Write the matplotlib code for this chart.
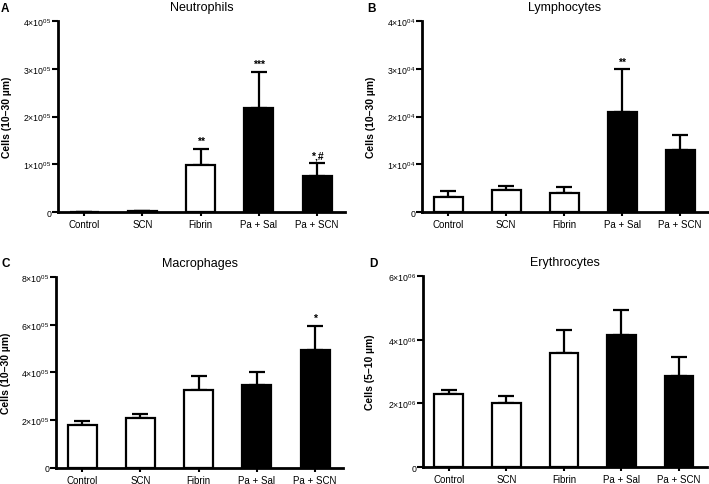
import numpy as np
import matplotlib
matplotlib.use("Agg")
import matplotlib.pyplot as plt
from matplotlib.ticker import FixedLocator, FuncFormatter

plt.rcParams['font.family'] = 'Liberation Sans'
plt.rcParams['mathtext.fontset'] = 'custom'
plt.rcParams['mathtext.rm'] = 'Liberation Sans'
plt.rcParams['mathtext.it'] = 'Liberation Sans:italic'
plt.rcParams['mathtext.bf'] = 'Liberation Sans:bold'

groups = ['Control', 'SCN', 'Fibrin', 'Pa + Sal', 'Pa + SCN']
fills = ['white', 'white', 'white', 'black', 'black']

# Neutrophils
neut = [0, 0.03e5, 0.99e5, 2.17e5, 0.76e5]
neut_err = [0, 0, 0.33e5, 0.76e5, 0.26e5]
neut_sig = ['', '', '**', '***', '*,#']

# Lymphocytes
lymph = [0.32e4, 0.46e4, 0.39e4, 2.10e4, 1.30e4]
lymph_err = [0.11e4, 0.09e4, 0.14e4, 0.89e4, 0.32e4]
lymph_sig = ['', '', '', '**', '']

# Macrophages
macro = [1.81e5, 2.11e5, 3.26e5, 3.47e5, 4.93e5]
macro_err = [0.14e5, 0.17e5, 0.61e5, 0.56e5, 1.01e5]
macro_sig = ['', '', '', '', '*']

# Erythrocytes
eryth = [2.28e6, 2.01e6, 3.59e6, 4.16e6, 2.85e6]
eryth_err = [0.13e6, 0.22e6, 0.73e6, 0.77e6, 0.62e6]
eryth_sig = ['', '', '', '', '']

panels = [
    ('A', 'Neutrophils', 'Cells (10\u201330 \u00b5m)', neut, neut_err, neut_sig, [0, 1e5, 2e5, 3e5, 4e5], 5,
     [0.0818, 0.5608, 0.4048, 0.3938], (1, 3), -0.160),
    ('B', 'Lymphocytes', 'Cells (10\u201330 \u00b5m)', lymph, lymph_err, lymph_sig, [0, 1e4, 2e4, 3e4, 4e4], 4,
     [0.5952, 0.5608, 0.4034, 0.3938], (367, 3), -0.161),
    ('C', 'Macrophages', 'Cells (10\u201330 \u00b5m)', macro, macro_err, macro_sig, [0, 2e5, 4e5, 6e5, 8e5], 5,
     [0.0790, 0.0330, 0.4048, 0.3938], (2, 258), -0.157),
    ('D', 'Erythrocytes', 'Cells (5\u201310 \u00b5m)', eryth, eryth_err, eryth_sig, [0, 2e6, 4e6, 6e6], 6,
     [0.5966, 0.0350, 0.4000, 0.3938], (369, 258), -0.168),
]

fig = plt.figure(figsize=(7.09, 4.85), dpi=100)

for letter, title, ylab, vals, errs, sigs, ticks, exp, pos, lpos, ylx in panels:
    ax = fig.add_axes(pos)
    x = np.arange(len(groups))
    ax.errorbar(x, vals, yerr=[np.zeros(len(errs)), errs], fmt='none', ecolor='black',
                elinewidth=1.6, capsize=6, capthick=1.6, zorder=1)
    ax.bar(x, vals, width=0.5, color=fills, edgecolor='black', linewidth=1.6, zorder=2)
    top = ticks[-1]
    for xi, v, e, s in zip(x, vals, errs, sigs):
        if s:
            ax.text(xi, v + e + top * 0.015, s, ha='center', va='bottom', fontsize=7.5, fontweight='bold')
    ax.set_xlim(-0.45, 4.48)
    ax.set_ylim(0, top)
    ax.set_xticks(x)
    ax.set_xticklabels(groups, fontsize=7)
    ax.yaxis.set_major_locator(FixedLocator(ticks))

    def fmt(v, p, exp=exp):
        if v == 0:
            return '0'
        m = int(round(v / 10 ** exp))
        return r'%d$\times$10$^{0%d}$' % (m, exp)
    ax.yaxis.set_major_formatter(FuncFormatter(fmt))
    ax.tick_params(axis='y', labelsize=6.3, length=4, width=1.5, pad=0.5)
    ax.tick_params(axis='x', length=3, width=1.5, pad=2)
    for sp in ['top', 'right']:
        ax.spines[sp].set_visible(False)
    for sp in ['left', 'bottom']:
        ax.spines[sp].set_linewidth(2)
    ax.set_ylabel(ylab, fontsize=7.5, fontweight='bold')
    ax.yaxis.set_label_coords(ylx, 0.5)
    ax.set_title(title, fontsize=9, pad=8)
    fig.text(lpos[0] / 709, 1 - lpos[1] / 485, letter, fontsize=8.5, fontweight='bold', ha='left', va='top')

fig.savefig('out.png', dpi=100)
